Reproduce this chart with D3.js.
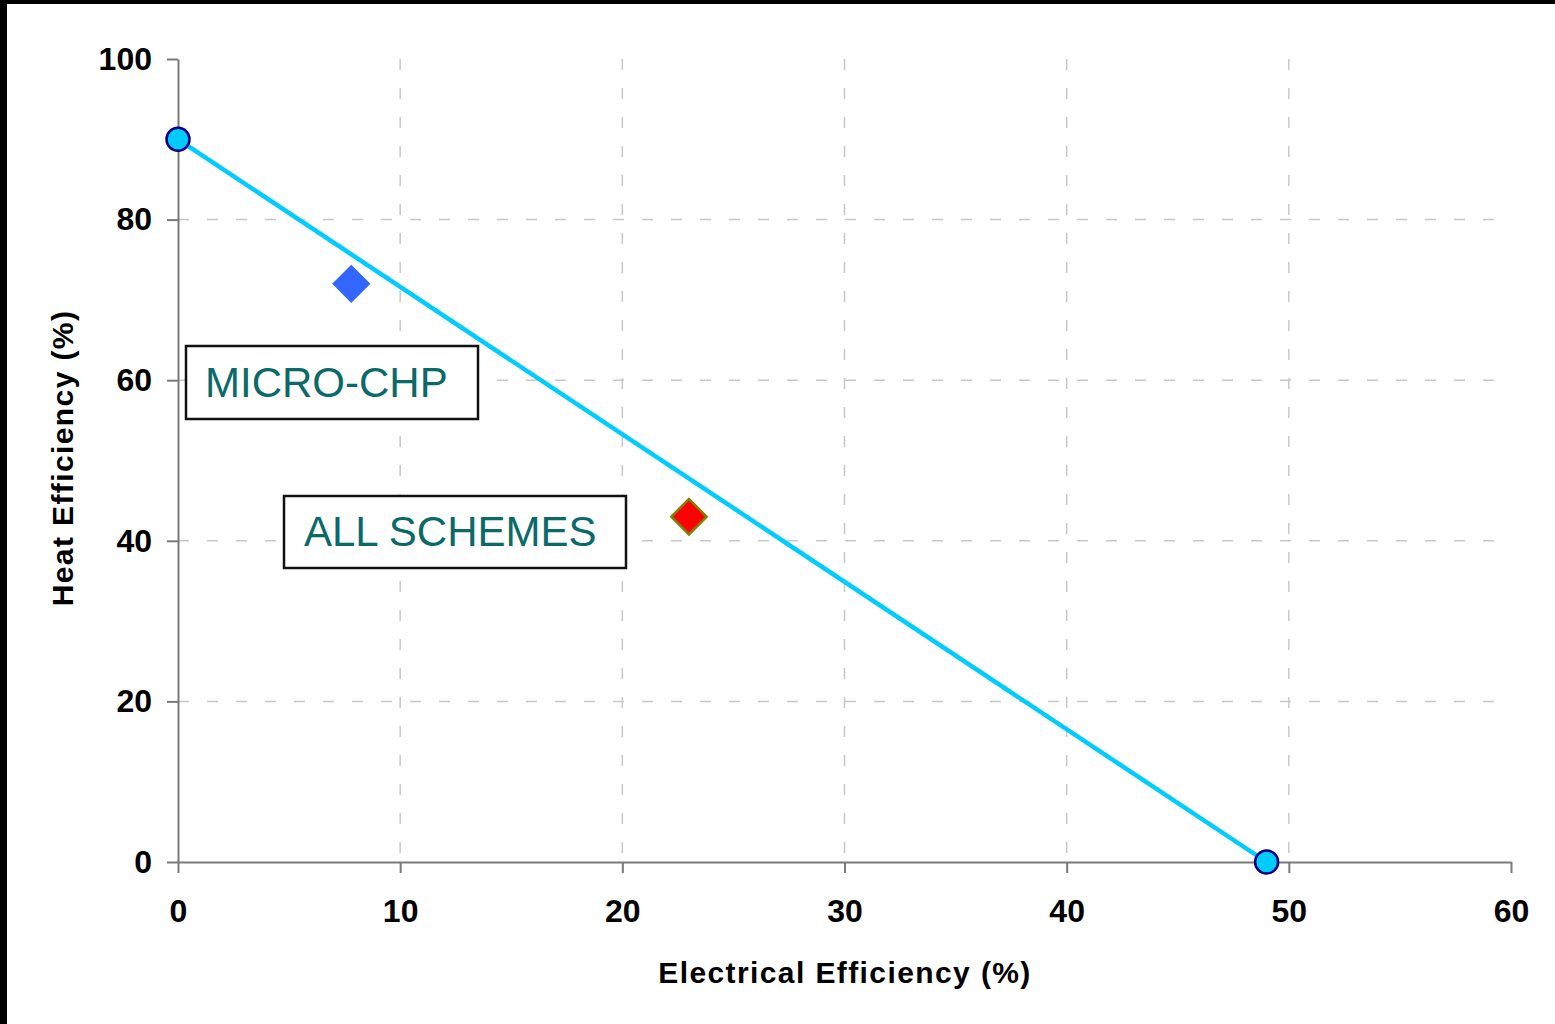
<!DOCTYPE html>
<html>
<head>
<meta charset="utf-8">
<title>Heat vs Electrical Efficiency</title>
<script src="https://cdn.jsdelivr.net/npm/d3@7/dist/d3.min.js"></script>
<style>
  html, body { margin: 0; padding: 0; background: #fff; }
  svg { display: block; }
  text { font-family: "Liberation Sans", Arial, sans-serif; }
</style>
</head>
<body>
<svg id="chart" width="1555" height="1024"></svg>
<script>
// Efficiency limit line: pure heat boiler to pure power plant
const limitLine = [
  { elec: 0, heat: 90 },
  { elec: 49, heat: 0 }
];
// Measured average for micro-CHP units
const microChp = [{ elec: 7.8, heat: 72 }];
// Average across all CHP schemes
const allSchemes = [{ elec: 23, heat: 43 }];

const xTicks = [0, 10, 20, 30, 40, 50, 60];
const yTicks = [0, 20, 40, 60, 80, 100];
const xGrid = [10, 20, 30, 40, 50];
const yGrid = [20, 40, 60, 80];

const labels = [
  { text: "MICRO-CHP", box: [186, 346, 292, 73], tx: 205, ty: 397 },
  { text: "ALL SCHEMES", box: [284, 496, 342, 72], tx: 304, ty: 546 }
];

const svg = d3.select("#chart");
const W = 1555, H = 1024;

svg.append("rect").attr("width", W).attr("height", H).attr("fill", "#fff");

const x = d3.scaleLinear().domain([0, 60]).range([178, 1511]);
const y = d3.scaleLinear().domain([0, 100]).range([862, 59]);

// dashed gridlines
const grid = svg.append("g").attr("stroke", "#c8c8c8").attr("stroke-width", 1.5)
  .attr("stroke-dasharray", "11 18");
grid.selectAll("line.v").data(xGrid).join("line").attr("class", "v")
  .attr("x1", d => x(d)).attr("x2", d => x(d))
  .attr("y1", y(100)).attr("y2", y(0));
grid.selectAll("line.h").data(yGrid).join("line").attr("class", "h")
  .attr("x1", x(0)).attr("x2", x(60))
  .attr("y1", d => y(d)).attr("y2", d => y(d));

// axes
const xAxis = svg.append("g").attr("transform", `translate(0,${y(0)})`)
  .call(d3.axisBottom(x).tickValues(xTicks).tickSize(11).tickPadding(26).tickSizeOuter(0));
const yAxis = svg.append("g").attr("transform", `translate(${x(0)},0)`)
  .call(d3.axisLeft(y).tickValues(yTicks).tickSize(11).tickPadding(15).tickSizeOuter(0));

[xAxis, yAxis].forEach(g => {
  g.select(".domain").attr("stroke", "#7a7a7a").attr("stroke-width", 2);
  g.selectAll(".tick line").attr("stroke", "#7a7a7a").attr("stroke-width", 2);
  g.selectAll(".tick text")
    .attr("fill", "#000").attr("font-size", 32).attr("font-weight", "bold")
    .style("font-family", '"Liberation Sans", Arial, sans-serif');
});
xAxis.selectAll(".tick text").attr("dy", "0.71em");

// axis titles
svg.append("text")
  .attr("x", 845).attr("y", 983)
  .attr("text-anchor", "middle")
  .attr("font-size", 30).attr("font-weight", "bold")
  .attr("letter-spacing", 1.4)
  .text("Electrical Efficiency (%)");

svg.append("text")
  .attr("transform", `translate(73,458) rotate(-90)`)
  .attr("text-anchor", "middle")
  .attr("font-size", 30).attr("font-weight", "bold")
  .attr("letter-spacing", 1.4)
  .text("Heat Efficiency (%)");

// annotation boxes
labels.forEach(l => {
  svg.append("rect")
    .attr("x", l.box[0]).attr("y", l.box[1])
    .attr("width", l.box[2]).attr("height", l.box[3])
    .attr("fill", "#fff").attr("stroke", "#111").attr("stroke-width", 2.5);
  svg.append("text")
    .attr("x", l.tx).attr("y", l.ty)
    .attr("font-size", 42).attr("fill", "#0a6a6a")
    .text(l.text);
});

// limit line and its end points
svg.append("path")
  .datum(limitLine)
  .attr("fill", "none").attr("stroke", "#00ccff").attr("stroke-width", 4.5)
  .attr("d", d3.line().x(d => x(d.elec)).y(d => y(d.heat)));

svg.selectAll("circle.end").data(limitLine).join("circle").attr("class", "end")
  .attr("cx", d => x(d.elec)).attr("cy", d => y(d.heat))
  .attr("r", 11.5)
  .attr("fill", "#00ccff").attr("stroke", "#000080").attr("stroke-width", 2.5);

// diamonds
const diamond = d3.symbol().type(d3.symbolSquare).size(27 * 27);
svg.selectAll("path.micro").data(microChp).join("path").attr("class", "micro")
  .attr("transform", d => `translate(${x(d.elec)},${y(d.heat)}) rotate(45)`)
  .attr("d", diamond)
  .attr("fill", "#3366ff");

svg.selectAll("path.all").data(allSchemes).join("path").attr("class", "all")
  .attr("transform", d => `translate(${x(d.elec)},${y(d.heat)}) rotate(45)`)
  .attr("d", d3.symbol().type(d3.symbolSquare).size(25 * 25))
  .attr("fill", "#ff0000").attr("stroke", "#808000").attr("stroke-width", 2.5);

// frame edges
svg.append("rect").attr("x", 0).attr("y", 0).attr("width", W).attr("height", 4).attr("fill", "#000");
svg.append("rect").attr("x", 0).attr("y", 0).attr("width", 7).attr("height", H).attr("fill", "#000");
</script>
</body>
</html>
